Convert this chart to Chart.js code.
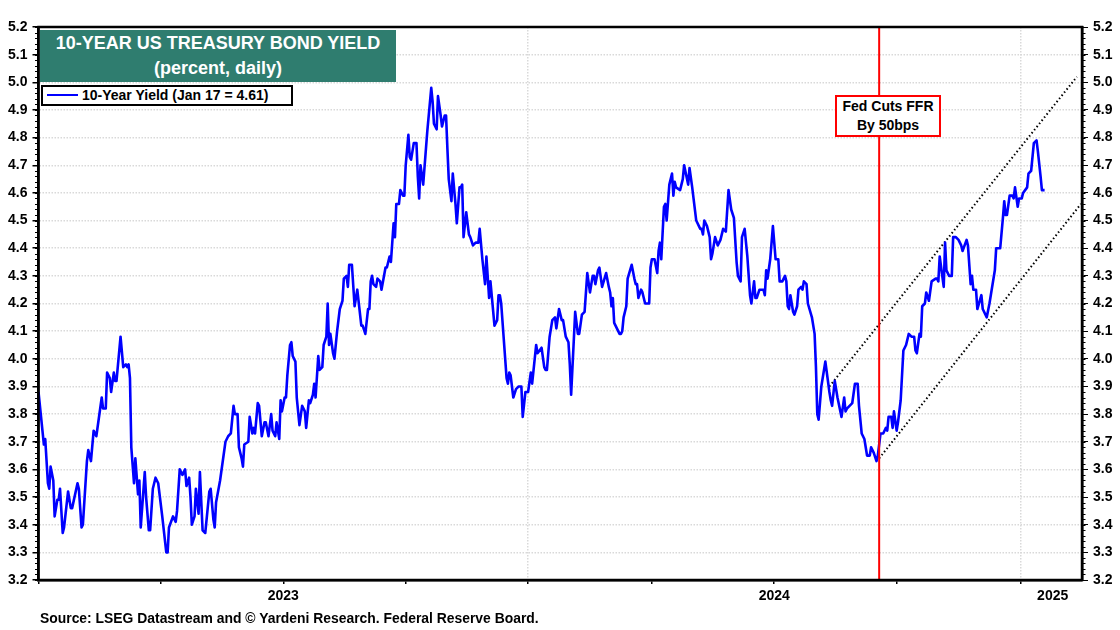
<!DOCTYPE html>
<html>
<head>
<meta charset="utf-8">
<title>10-Year US Treasury Bond Yield</title>
<script src="https://cdn.jsdelivr.net/npm/chart.js@4"></script>
<style>
body { margin: 0; background: #fff; font-family: "Liberation Sans", Arial, sans-serif; font-weight: bold; }
#wrap { position: relative; width: 1120px; height: 630px; }
#wrap div { position: absolute; box-sizing: border-box; }
#title { left: 40px; top: 30px; width: 356px; height: 52px; background: #2f7d6f; color: #fff; font-size: 18px; line-height: 25px; text-align: center; padding-top: 1px; }
#legend { left: 41px; top: 85px; width: 252px; height: 21px; background: #fff; border: 2px solid #000; color: #000; font-size: 14px; line-height: 17px; padding-left: 39px; white-space: nowrap; }
#legend span { position: absolute; left: 4px; top: 7px; width: 31px; height: 2px; background: #0000ff; }
#note { left: 835px; top: 95px; width: 106px; height: 42px; background: #fff; border: 2px solid #ff0000; color: #000; font-size: 14px; line-height: 19px; text-align: center; padding-top: 0; }
#source { left: 40px; top: 610px; color: #000; font-size: 13.9px; white-space: nowrap; }
</style>
</head>
<body>
<div id="wrap">
  <canvas id="yieldChart" width="1120" height="630"></canvas>
  <div id="title">10-YEAR US TREASURY BOND YIELD<br>(percent, daily)</div>
  <div id="legend"><span></span>10-Year Yield (Jan 17 = 4.61)</div>
  <div id="note">Fed Cuts FFR<br>By 50bps</div>
  <div id="source">Source: LSEG Datastream and © Yardeni Research. Federal Reserve Board.</div>
</div>
<script>
// days since start of 2023
const tradingDays = [
  0,4,5,7,8,9,11,12,14,15,16,18,19,22,24,25,29,30,32,33,36,37,39,41,43,47,48,50,51,53,54,56,57,58,61,63,65,66,67,68,
  69,71,72,74,75,76,79,80,82,83,85,87,89,92,95,96,97,100,102,103,105,107,109,110,112,113,114,116,117,119,120,122,124,127,128,130,131,132,135,139,
  141,143,145,146,148,149,151,152,153,156,157,159,160,161,163,164,166,168,169,171,173,174,176,177,179,180,181,183,184,185,187,188,189,191,192,194,
  196,198,199,201,202,204,205,206,208,209,211,212,214,215,216,217,219,220,222,224,226,227,229,230,231,233,235,237,240,241,243,245,246,247,248,249,
  251,252,254,255,258,259,261,262,264,265,266,268,269,271,272,273,275,276,277,279,281,282,283,284,286,289,292,293,294,296,297,299,300,302,303,304,
  305,307,308,310,311,313,314,315,316,318,320,321,323,325,327,328,330,332,333,335,336,339,341,342,343,344,348,349,350,351,353,355,357,359,360,362,
  364,366,367,370,371,374,376,377,378,380,382,384,385,387,389,390,392,394,395,396,399,401,402,404,406,408,410,412,413,414,416,417,419,422,424,425,
  426,427,428,432,433,434,435,437,438,441,443,444,445,446,448,449,451,454,455,456,458,460,461,462,463,465,466,467,469,471,472,473,474,477,479,480,
  483,484,486,489,491,492,493,494,495,497,499,500,501,503,505,507,509,511,513,515,517,519,520,522,523,525,527,529,530,532,533,534,536,539,540,541,
  542,544,546,548,550,551,553,555,556,557,558,559,561,562,564,565,567,568,569,571,572,575,577,578,579,580,582,585,588,589,590,592,594,597,599,600,
  601,605,607,609,610,612,614,616,618,619,621,623,624,626,628,630,631,632,634,635,636,638,639,641,643,645,647,649,651,652,653,655,656,657,659,660,
  662,664,667,668,669,670,673,674,675,677,679,680,682,684,686,687,690,691,693,694,695,697,698,701,702,705,707,708,711,712,714,715,717,718,719,720,
  722,724,725,726,728,729,731,732,735,736,738,740,742,743,745,746,748
];
const yieldValues = [
  3.88,3.69,3.71,3.55,3.53,3.61,3.56,3.43,3.49,3.49,3.53,3.37,3.39,3.52,3.46,3.46,3.55,3.53,3.39,3.40,3.63,3.67,3.63,3.74,3.72,3.86,3.82,3.82,3.95,3.93,3.88,3.95,3.92,3.92,4.08,3.97,3.98,3.97,3.98,3.93,
  3.68,3.55,3.64,3.51,3.56,3.39,3.59,3.50,3.38,3.38,3.53,3.57,3.55,3.43,3.30,3.30,3.39,3.43,3.41,3.45,3.60,3.58,3.60,3.54,3.57,3.50,3.40,3.43,3.53,3.44,3.59,3.38,3.37,3.52,3.53,3.42,3.39,3.48,3.56,3.70,
  3.72,3.73,3.83,3.80,3.80,3.68,3.64,3.61,3.69,3.70,3.79,3.73,3.75,3.73,3.84,3.83,3.72,3.77,3.77,3.72,3.80,3.74,3.72,3.77,3.71,3.85,3.81,3.86,3.86,3.94,4.05,4.06,4.01,3.99,3.86,3.76,
  3.83,3.81,3.75,3.85,3.84,3.87,3.91,3.86,4.01,3.96,3.97,4.05,4.08,4.20,4.05,4.09,4.02,4.00,4.10,4.18,4.21,4.29,4.30,4.26,4.34,4.34,4.19,4.25,4.12,4.12,4.09,4.18,4.18,4.28,4.30,4.27,
  4.26,4.29,4.28,4.25,4.33,4.33,4.37,4.35,4.49,4.44,4.56,4.56,4.61,4.59,4.59,4.70,4.81,4.73,4.72,4.78,4.78,4.66,4.58,4.70,4.63,4.82,4.98,4.93,4.85,4.83,4.95,4.88,4.84,4.88,4.88,4.76,
  4.65,4.57,4.67,4.56,4.49,4.62,4.62,4.63,4.44,4.53,4.45,4.44,4.41,4.42,4.42,4.47,4.36,4.27,4.37,4.22,4.28,4.12,4.14,4.23,4.23,4.20,3.93,3.91,3.95,3.94,3.86,3.89,3.90,3.90,3.79,3.88,
  3.88,3.95,3.91,4.05,4.02,4.04,3.97,3.96,3.96,4.08,4.14,4.15,4.11,4.18,4.14,4.14,4.08,4.06,3.98,3.87,4.17,4.09,4.09,4.16,4.17,4.31,4.24,4.30,4.30,4.27,4.32,4.33,4.26,4.31,4.26,4.24,
  4.19,4.22,4.13,4.09,4.09,4.10,4.15,4.19,4.29,4.34,4.29,4.27,4.27,4.22,4.25,4.24,4.20,4.20,4.33,4.36,4.36,4.31,4.39,4.42,4.36,4.55,4.56,4.50,4.63,4.67,4.59,4.64,4.62,4.61,4.65,4.70,
  4.63,4.69,4.62,4.50,4.48,4.47,4.47,4.45,4.50,4.48,4.44,4.36,4.38,4.44,4.41,4.43,4.47,4.46,4.61,4.54,4.51,4.35,4.30,4.28,4.44,4.47,4.37,4.23,4.20,4.28,4.22,4.22,4.25,4.25,4.23,4.32,
  4.29,4.36,4.48,4.36,4.36,4.28,4.28,4.30,4.28,4.19,4.18,4.23,4.17,4.16,4.19,4.25,4.26,4.25,4.28,4.27,4.20,4.15,4.09,3.97,3.80,3.78,3.90,3.99,3.88,3.85,3.83,3.92,3.86,3.79,3.86,3.81,
  3.82,3.84,3.91,3.91,3.83,3.73,3.71,3.65,3.65,3.68,3.66,3.63,3.65,3.73,3.73,3.75,3.74,3.79,3.79,3.75,3.81,3.74,3.77,3.85,4.03,4.05,4.09,4.08,4.08,4.03,4.02,4.09,4.08,4.19,4.20,4.24,
  4.21,4.28,4.29,4.29,4.28,4.37,4.26,4.42,4.32,4.30,4.30,4.44,4.44,4.43,4.41,4.39,4.43,4.41,4.27,4.30,4.25,4.25,4.18,4.23,4.18,4.15,4.20,4.23,4.32,4.40,4.40,4.40,4.51,4.57,4.52,4.52,
  4.59,4.59,4.58,4.62,4.55,4.58,4.58,4.60,4.62,4.67,4.68,4.78,4.79,4.75,4.66,4.61,4.61
];

const upperChannelDays = [588, 772];
const upperChannelValues = [3.90, 5.02];
const lowerChannelDays = [625, 775];
const lowerChannelValues = [3.64, 4.56];
const fedCutDays = [625, 625];
const fedCutValues = [3.2, 5.2];

const xTickDays = [0, 91, 182, 273, 364, 456, 547, 638, 730];
const xGridDays = [364, 730];
const yearLabelDays = [182, 547, 754];
const yearLabels = ["2023", "2024", "2025"];
const yTicks = [3.2, 3.3, 3.4, 3.5, 3.6, 3.7, 3.8, 3.9, 4.0, 4.1, 4.2, 4.3, 4.4, 4.5, 4.6, 4.7, 4.8, 4.9, 5.0, 5.1, 5.2];

function toPoints(xs, ys) {
  return xs.map((x, i) => ({ x: x, y: ys[i] }));
}

// frame around the plot and the small ticks on both y axes
const framePlugin = {
  id: "frame",
  afterDraw(chart) {
    const ctx = chart.ctx;
    const area = chart.chartArea;
    const y = chart.scales.y;
    ctx.save();
    ctx.strokeStyle = "#000";
    ctx.lineWidth = 1;
    for (let i = 0; i <= 100; i++) {
      const py = Math.round(y.getPixelForValue(3.2 + i * 0.02)) + 0.5;
      ctx.beginPath();
      ctx.moveTo(area.left - 3.5, py);
      ctx.lineTo(area.left, py);
      ctx.moveTo(area.right, py);
      ctx.lineTo(area.right + 3.5, py);
      ctx.stroke();
    }
    ctx.lineWidth = 2.5;
    ctx.strokeRect(area.left, area.top, area.right - area.left, area.bottom - area.top);
    ctx.restore();
  }
};

const labelFont = { family: "'Liberation Sans', Arial, sans-serif", size: 14, weight: "bold" };
const gridColor = "#d9d9d9";

new Chart(document.getElementById("yieldChart"), {
  type: "line",
  plugins: [framePlugin],
  data: {
    datasets: [
      {
        label: "10-Year Yield",
        data: toPoints(tradingDays, yieldValues),
        borderColor: "#0000ff",
        borderWidth: 2.6,
        borderJoinStyle: "round",
        pointRadius: 0,
        tension: 0,
        order: 2
      },
      {
        label: "Upper channel",
        data: toPoints(upperChannelDays, upperChannelValues),
        borderColor: "#000",
        borderWidth: 2,
        borderDash: [1.5, 2.5],
        pointRadius: 0,
        order: 3
      },
      {
        label: "Lower channel",
        data: toPoints(lowerChannelDays, lowerChannelValues),
        borderColor: "#000",
        borderWidth: 2,
        borderDash: [1.5, 2.5],
        pointRadius: 0,
        order: 3
      },
      {
        label: "Fed cut",
        data: toPoints(fedCutDays, fedCutValues),
        borderColor: "#ff0000",
        borderWidth: 2,
        pointRadius: 0,
        order: 1
      }
    ]
  },
  options: {
    responsive: false,
    animation: false,
    layout: { padding: { top: 27 } },
    plugins: { legend: { display: false }, tooltip: { enabled: false } },
    scales: {
      x: {
        type: "linear",
        min: 0,
        max: 775.8,
        afterFit(scale) { scale.height = 50; },
        afterBuildTicks(scale) {
          scale.ticks = xTickDays.concat([754]).map(v => ({ value: v }));
        },
        border: { color: "#000", width: 2.5, dash: [1.5, 1.5] },
        grid: {
          tickLength: 4,
          lineWidth: 1.5,
          color: c => xGridDays.includes(c.tick.value) ? gridColor : "transparent",
          tickColor: c => xTickDays.includes(c.tick.value) ? "#000" : "transparent"
        },
        ticks: {
          autoSkip: false,
          maxRotation: 0,
          padding: 4,
          color: "#000",
          font: labelFont,
          callback: v => yearLabelDays.includes(v) ? yearLabels[yearLabelDays.indexOf(v)] : ""
        }
      },
      y: {
        position: "left",
        min: 3.2,
        max: 5.2,
        afterFit(scale) { scale.width = 38.5; },
        afterBuildTicks(scale) { scale.ticks = yTicks.map(v => ({ value: v })); },
        border: { color: "#000", width: 2.5, dash: [1.5, 1.5] },
        grid: { tickLength: 6, lineWidth: 1.5, color: gridColor, tickColor: "#000" },
        ticks: { padding: 5, color: "#000", font: labelFont, callback: v => v.toFixed(1) }
      },
      yRight: {
        position: "right",
        min: 3.2,
        max: 5.2,
        afterFit(scale) { scale.width = 38; },
        afterBuildTicks(scale) { scale.ticks = yTicks.map(v => ({ value: v })); },
        border: { color: "#000", width: 2.5 },
        grid: { drawOnChartArea: false, tickLength: 6, tickColor: "#000" },
        ticks: { padding: 5, color: "#000", font: labelFont, callback: v => v.toFixed(1) }
      }
    }
  }
});
</script>
</body>
</html>
